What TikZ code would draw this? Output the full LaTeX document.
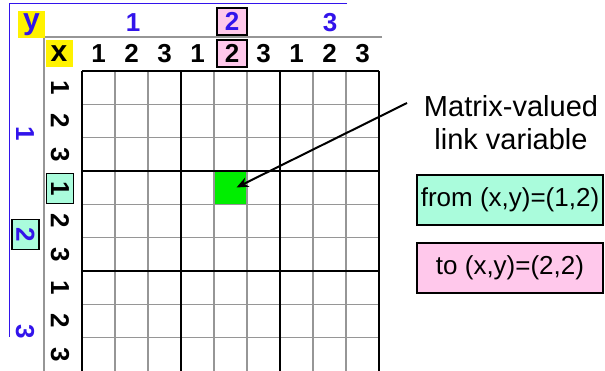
\documentclass[tikz,border=0pt]{standalone}
\usepackage{fontspec}
\setmainfont{Liberation Sans}
\usetikzlibrary{arrows.meta,calc}
\definecolor{ublue}{RGB}{50,20,235}
\definecolor{uteal}{RGB}{170,252,220}
\definecolor{upink}{RGB}{255,200,235}
\definecolor{ugreen}{RGB}{0,238,0}
\definecolor{ugray}{RGB}{150,150,150}
\tikzset{
  num/.style={font=\fontsize{26}{28}\selectfont\bfseries, inner sep=0pt},
  bnum/.style={num, text=ublue},
  hbox/.style={draw=black, line width=1.4pt, minimum width=30pt, minimum height=27pt, inner sep=0pt},
  ybox/.style={fill=yellow, minimum width=27pt, minimum height=27pt, inner sep=0pt, font=\fontsize{30}{30}\selectfont\bfseries},
  infobox/.style={draw=black, line width=1.4pt, minimum width=186pt, minimum height=50pt, inner sep=0pt, font=\fontsize{26}{28}\selectfont},
  thinline/.style={draw=ugray, line width=1.5pt},
  thickline/.style={draw=black, line width=1.5pt},
}
\begin{document}
\begin{tikzpicture}[x=1pt,y=-1pt]
\useasboundingbox (0,0) rectangle (605,371);
% frame lines
\draw[ublue, line width=1pt] (347,4) -- (9,4) -- (9,337);
\draw[ugray, line width=1.5pt] (382,37) -- (44,37) -- (44,371);
% green cell
\fill[ugreen] (214,171) rectangle (247,204);
\node[inner sep=0pt, minimum size=0pt] (cell) at (230.5,187.5) {};
% grid
\foreach \i in {1,2,4,5,7,8} {\draw[thinline] (82+33*\i,71) -- (82+33*\i,371);}
\foreach \j in {1,2,4,5,7,8} {\draw[thinline] (82,71+33.33*\j) -- (379,71+33.33*\j);}
\foreach \i in {0,3,6,9} {\draw[thickline] (82+33*\i,71) -- (82+33*\i,371);}
\foreach \j in {0,3,6} {\draw[thickline] (82,71+33.33*\j) -- (379,71+33.33*\j);}
% y and x labels
\node[ybox, text=ublue] (ylab) at (31.5,25) {y};
\node[ybox, text=black] (xlab) at (59,53.5) {x};
% top y-values
\node[bnum] (ytop1) at (133,23) {1};
\node[hbox, fill=upink, bnum] (ytop2) at (232,21.5) {2};
\node[bnum] (ytop3) at (330,23) {3};
% x row
\foreach \n [count=\k from 0] in {1,2,3,1,2,3,1,2,3} {
  \ifnum\k=4
    \node[hbox, fill=upink, num] (xtop\k) at (232,53.5) {\n};
  \else
    \node[num] (xtop\k) at (98.5+33*\k,53.5) {\n};
  \fi
}
% left x column (rotated)
\foreach \n [count=\k from 0] in {1,2,3,1,2,3,1,2,3} {
  \ifnum\k=3
    \node[hbox, fill=uteal, num, rotate=-90] (xleft\k) at (60,188.5) {\n};
  \else
    \node[num, rotate=-90] (xleft\k) at (60,87.7+33.33*\k) {\n};
  \fi
}
% left y-values (rotated)
\node[bnum, rotate=-90] (yleft1) at (25,134) {1};
\node[hbox, fill=uteal, bnum, rotate=-90] (yleft2) at (25.5,234.5) {2};
\node[bnum, rotate=-90] (yleft3) at (25,332) {3};
% annotation
\node[font=\fontsize{29}{33}\selectfont, align=center] (note) at (511,123) {Matrix-valued\\link variable};
\coordinate (arrstart) at (407,103);
\draw[line width=2pt, -{Stealth[length=12pt,width=10pt]}] (arrstart) -- ($(cell)+(6,0)$);
\node[infobox, fill=uteal] (fromb) at (510,200) {from (x,y)=(1,2)};
\node[infobox, fill=upink] (tob) at (510,268) {to (x,y)=(2,2)};
\end{tikzpicture}
\end{document}
